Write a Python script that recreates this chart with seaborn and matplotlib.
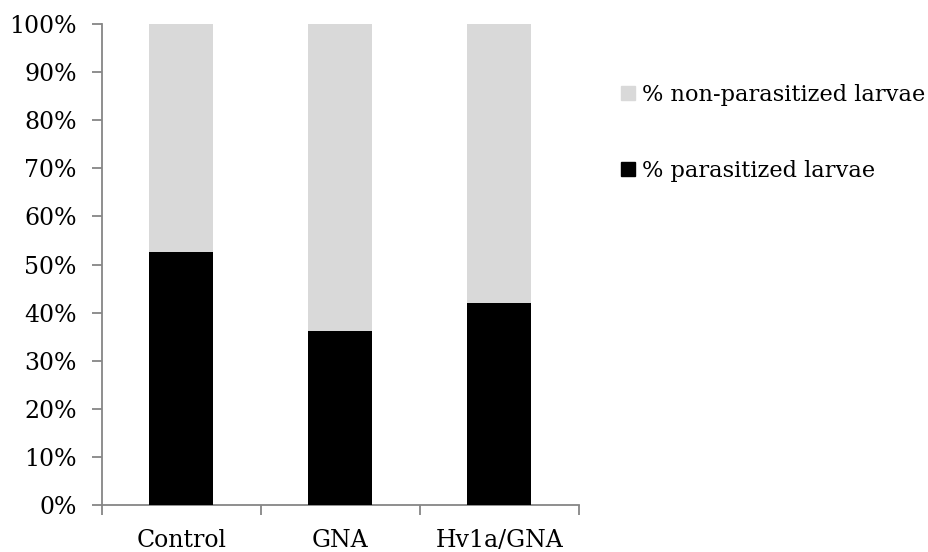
import matplotlib
matplotlib.use("Agg")
import matplotlib.pyplot as plt
from matplotlib.lines import Line2D
from matplotlib.ticker import PercentFormatter, FixedLocator
import seaborn as sns
import pandas as pd

# Treatments and share of parasitized larvae (%)
treatments = ["Control", "GNA", "Hv1a/GNA"]
parasitized = [52.7, 36.2, 42.1]
non_parasitized = [100 - p for p in parasitized]

label_non = "% non-parasitized larvae"
label_par = "% parasitized larvae"
color_non = "#d9d9d9"
color_par = "#000000"
axis_gray = "#868686"

df = pd.DataFrame({
    "treatment": treatments,
    "parasitized": parasitized,
    "total": [p + n for p, n in zip(parasitized, non_parasitized)],
})

sns.set_style("white")
plt.rcParams["font.family"] = ["DejaVu Serif"]
plt.rcParams["text.color"] = "black"
fs_tick = 17
fs_leg = 16.2

fig = plt.figure(figsize=(9.29, 5.52), dpi=100)
ax = fig.add_axes([0.1095, 0.0851, 0.5135, 0.8714])

# Stacked bars: full-height light bar, then the parasitized part on top of it
sns.barplot(data=df, x="treatment", y="total", color=color_non, width=0.4,
            saturation=1, linewidth=0, ax=ax, zorder=2)
sns.barplot(data=df, x="treatment", y="parasitized", color=color_par, width=0.4,
            saturation=1, linewidth=0, ax=ax, zorder=3)

ax.set_xlim(-0.5, len(treatments) - 0.5)
ax.set_ylim(0, 100)
ax.set_yticks(range(0, 101, 10))
ax.yaxis.set_major_formatter(PercentFormatter(decimals=0))
ax.set_xlabel("")
ax.set_ylabel("")

for side in ("top", "right"):
    ax.spines[side].set_visible(False)
for side in ("left", "bottom"):
    ax.spines[side].set_color(axis_gray)
    ax.spines[side].set_linewidth(1.3)

ax.tick_params(axis="y", which="major", direction="out", length=7, width=1.3,
               color=axis_gray, labelsize=fs_tick, labelcolor="black", pad=11, left=True)
ax.tick_params(axis="x", which="major", length=0, labelsize=fs_tick,
               labelcolor="black", pad=17)
# Tick marks between categories on the x axis
ax.xaxis.set_minor_locator(FixedLocator([-0.5, 0.5, 1.5, 2.5]))
ax.tick_params(axis="x", which="minor", direction="out", length=7, width=1.3,
               color=axis_gray, bottom=True)

handles = [
    Line2D([], [], marker="s", linestyle="none", markersize=10.5,
           markerfacecolor=color_non, markeredgecolor=color_non, label=label_non),
    Line2D([], [], marker="s", linestyle="none", markersize=10.5,
           markerfacecolor=color_par, markeredgecolor=color_par, label=label_par),
]
leg = fig.legend(handles=handles, loc="upper left", bbox_to_anchor=(0.6575, 0.865),
                 frameon=False, fontsize=fs_leg, labelspacing=2.4, handlelength=0.7,
                 handletextpad=0.3, borderaxespad=0)
for t in leg.get_texts():
    t.set_color("black")

fig.savefig("out.png", dpi=100, facecolor="white")
